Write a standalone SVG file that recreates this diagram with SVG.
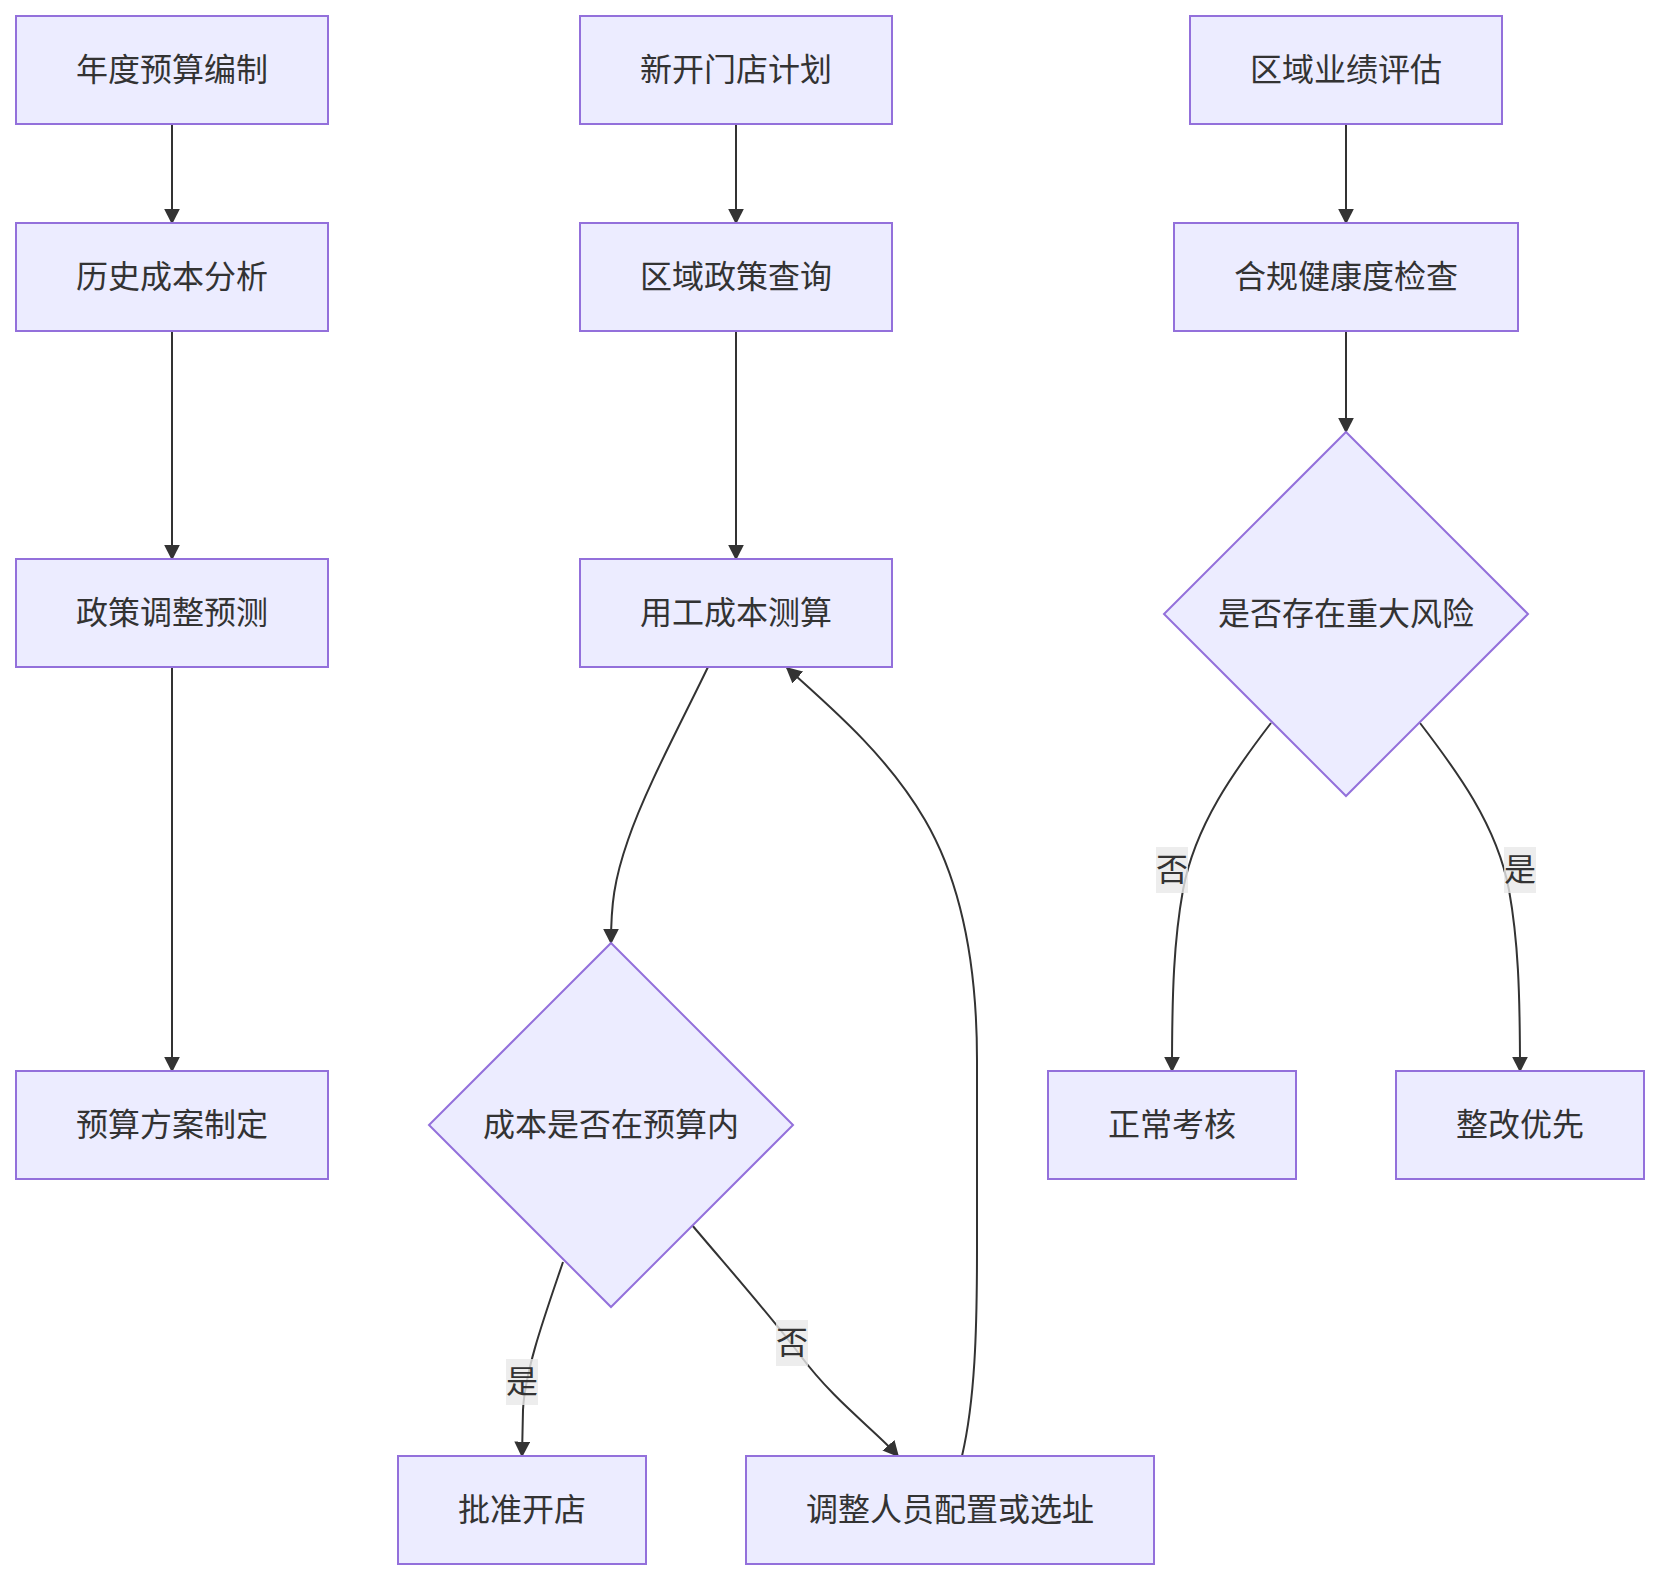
<svg xmlns="http://www.w3.org/2000/svg" width="1660" height="1580" viewBox="0 0 1660 1580">
<defs>
<marker id="arrow" markerUnits="userSpaceOnUse" markerWidth="16" markerHeight="16" viewBox="0 0 10 10" refX="9" refY="5" orient="auto">
<path d="M0,0 L10,5 L0,10 z" fill="#333333"/>
</marker>
<style>
.node rect, .node polygon { fill: #ECECFF; stroke: #9370DB; stroke-width: 2; }
.node text { font-family: "Liberation Sans", "Noto Sans CJK SC", sans-serif; font-size: 32px; fill: #333333; text-anchor: middle; dominant-baseline: central; }
.edges path { fill: none; stroke: #333333; stroke-width: 2; marker-end: url(#arrow); }
.elabel rect { fill: #e8e8e8; fill-opacity: 0.8; }
.elabel text { font-family: "Liberation Sans", "Noto Sans CJK SC", sans-serif; font-size: 32px; fill: #333333; text-anchor: middle; dominant-baseline: central; }
</style>
</defs>
<rect width="1660" height="1580" fill="#ffffff"/>

<g id="connectors" class="edges">
<path d="M172,124 L172,223"/>
<path d="M172,331 L172,559"/>
<path d="M172,667 L172,1071"/>
<path d="M736,124 L736,223"/>
<path d="M736,331 L736,559"/>
<path d="M708,667 C680,725 645,790 628,840 C614,880 611,905 611,943"/>
<path d="M563,1262 C545,1315 525,1370 523,1410 L522,1456"/>
<path d="M692,1225 C730,1270 770,1315 800,1355 C835,1402 875,1430 898,1456"/>
<path d="M962,1456 C975,1400 977,1330 977,1250 L977,1060 C977,960 960,880 925,820 C890,760 840,715 787,668"/>
<path d="M1346,124 L1346,223"/>
<path d="M1346,331 L1346,432"/>
<path d="M1271,723 C1235,770 1195,825 1183,890 C1174,940 1172,990 1172,1071"/>
<path d="M1420,723 C1456,770 1497,825 1509,890 C1518,940 1520,990 1520,1071"/>
</g>

<g id="edge-labels">
<g class="elabel"><rect x="506" y="1359" width="32" height="46"/><text x="522" y="1382">是</text></g>
<g class="elabel"><rect x="776" y="1320" width="32" height="46"/><text x="792" y="1343">否</text></g>
<g class="elabel"><rect x="1156" y="847" width="32" height="46"/><text x="1172" y="870">否</text></g>
<g class="elabel"><rect x="1504" y="847" width="32" height="46"/><text x="1520" y="870">是</text></g>
</g>

<g id="n1" class="node"><rect x="16" y="16" width="312" height="108"/><text x="172" y="70">年度预算编制</text></g>
<g id="n2" class="node"><rect x="16" y="223" width="312" height="108"/><text x="172" y="277">历史成本分析</text></g>
<g id="n3" class="node"><rect x="16" y="559" width="312" height="108"/><text x="172" y="613">政策调整预测</text></g>
<g id="n4" class="node"><rect x="16" y="1071" width="312" height="108"/><text x="172" y="1125">预算方案制定</text></g>

<g id="n5" class="node"><rect x="580" y="16" width="312" height="108"/><text x="736" y="70">新开门店计划</text></g>
<g id="n6" class="node"><rect x="580" y="223" width="312" height="108"/><text x="736" y="277">区域政策查询</text></g>
<g id="n7" class="node"><rect x="580" y="559" width="312" height="108"/><text x="736" y="613">用工成本测算</text></g>
<g id="n8" class="node"><polygon points="611,943 793,1125 611,1307 429,1125"/><text x="611" y="1125">成本是否在预算内</text></g>
<g id="n9" class="node"><rect x="398" y="1456" width="248" height="108"/><text x="522" y="1510">批准开店</text></g>
<g id="n10" class="node"><rect x="746" y="1456" width="408" height="108"/><text x="950" y="1510">调整人员配置或选址</text></g>

<g id="n11" class="node"><rect x="1190" y="16" width="312" height="108"/><text x="1346" y="70">区域业绩评估</text></g>
<g id="n12" class="node"><rect x="1174" y="223" width="344" height="108"/><text x="1346" y="277">合规健康度检查</text></g>
<g id="n13" class="node"><polygon points="1346,432 1528,614 1346,796 1164,614"/><text x="1346" y="614">是否存在重大风险</text></g>
<g id="n14" class="node"><rect x="1048" y="1071" width="248" height="108"/><text x="1172" y="1125">正常考核</text></g>
<g id="n15" class="node"><rect x="1396" y="1071" width="248" height="108"/><text x="1520" y="1125">整改优先</text></g>
</svg>
